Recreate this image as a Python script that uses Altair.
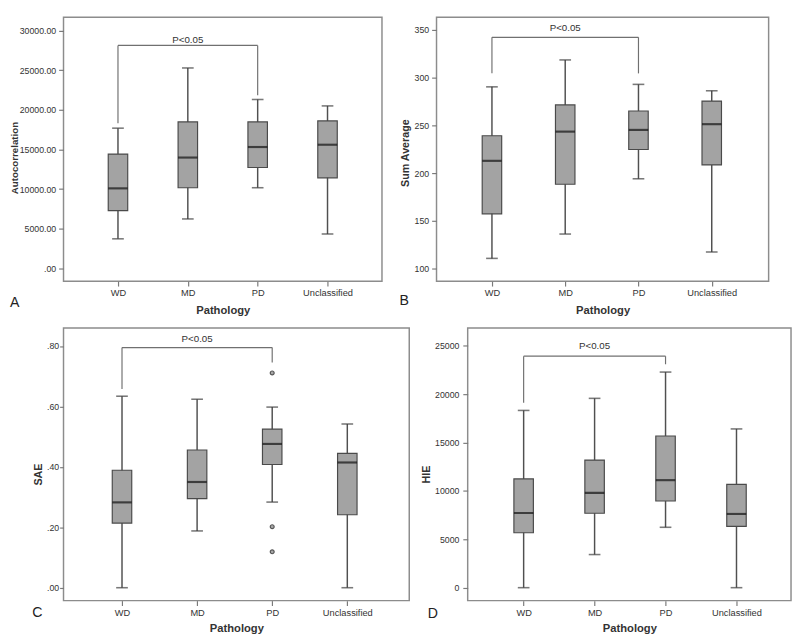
import altair as alt
import pandas as pd

FONT = "Liberation Sans, Arial, Helvetica, sans-serif"
CATS = ["WD", "MD", "PD", "Unclassified"]

# ---- Panel A: Autocorrelation ----
A_LO = [3730, 6240, 10180, 4340]
A_Q1 = [7300, 10180, 12730, 11430]
A_MED = [10100, 13990, 15320, 15610]
A_Q3 = [14430, 18490, 18490, 18610]
A_HI = [17700, 25300, 21320, 20510]
A_TICKS = [0, 5000, 10000, 15000, 20000, 25000, 30000]
A_BRACKET = [28150, 18320, 21850]  # bar level, WD leg end, PD leg end

# ---- Panel B: Sum Average ----
B_LO = [110.8, 136.3, 194.2, 117.5]
B_Q1 = [157.5, 188.5, 224.9, 208.7]
B_MED = [213.0, 243.6, 245.4, 251.4]
B_Q3 = [239.3, 271.6, 265.2, 275.6]
B_HI = [290.5, 318.7, 293.1, 286.4]
B_TICKS = [100, 150, 200, 250, 300, 350]
B_BRACKET = [342.4, 304.8, 304.6]

# ---- Panel C: SAE ----
C_LO = [0.0, 0.188, 0.2835, 0.0]
C_Q1 = [0.214, 0.295, 0.408, 0.2416]
C_MED = [0.2825, 0.350, 0.476, 0.4146]
C_Q3 = [0.389, 0.456, 0.525, 0.445]
C_HI = [0.634, 0.624, 0.598, 0.542]
C_OUT_CAT = [2, 2, 2]
C_OUT_VAL = [0.711, 0.202, 0.119]
C_TICKS = [0.0, 0.2, 0.4, 0.6, 0.8]
C_BRACKET = [0.795, 0.658, 0.746]

# ---- Panel D: HIE ----
D_LO = [0, 3422, 6240, 0]
D_Q1 = [5676, 7689, 8957, 6340]
D_MED = [7719, 9802, 11111, 7618]
D_Q3 = [11241, 13184, 15670, 10668]
D_HI = [18316, 19565, 22281, 16405]
D_TICKS = [0, 5000, 10000, 15000, 20000, 25000]
D_BRACKET = [23922, 19121, 23087]

P_TEXT = "P<0.05"
X_TITLE = "Pathology"

CAT_EXPR = "[" + ",".join("'%s'" % c for c in CATS) + "][datum.value]"


def panel(lo, q1, med, q3, hi, ticks, ydom, yexpr, ytitle, ytitle_size,
          letter, bracket, w, h, xdom, title_x, title_y, letter_x, letter_y,
          label_pad=3, tick_size=5, out_cat=None, out_val=None, text_dy=-8,
          xtitle_y=24):
    df = pd.DataFrame({"idx": list(range(len(CATS))), "cat": CATS,
                       "lo": lo, "q1": q1, "med": med, "q3": q3, "hi": hi})
    xs = alt.Scale(domain=xdom, nice=False, zero=False)
    ys = alt.Scale(domain=ydom, nice=False, zero=False)
    x_axis = alt.Axis(values=list(range(len(CATS))), labelExpr=CAT_EXPR,
                      title=X_TITLE, grid=False, domain=False, tickSize=5,
                      tickColor="#7a7a7a", tickWidth=1.2, labelFontSize=9.5,
                      labelColor="#333333", labelPadding=2, labelFlush=False,
                      titleFontSize=11.5, titleFontWeight="bold", titleColor="#333333",
                      titleY=xtitle_y, titleBaseline="top")
    y_axis = alt.Axis(values=ticks, labelExpr=yexpr, title=ytitle, grid=False,
                      domain=False, tickSize=tick_size, tickColor="#7a7a7a", tickWidth=1.2,
                      labelFontSize=9, labelColor="#333333", labelPadding=label_pad,
                      labelFlush=False, labelOverlap=False,
                      titleFontSize=ytitle_size, titleFontWeight="bold", titleColor="#333333",
                      titleX=title_x, titleY=title_y, titleBaseline="bottom", titleAngle=270)
    base = alt.Chart(df)
    whisk = base.mark_rule(color="#505050", strokeWidth=1.5).encode(
        x=alt.X("idx:Q", scale=xs, axis=x_axis),
        y=alt.Y("lo:Q", scale=ys, axis=y_axis), y2="hi:Q")
    cap_lo = base.mark_tick(orient="horizontal", size=12, thickness=1.6, color="#404040").encode(
        x="idx:Q", y="lo:Q")
    cap_hi = base.mark_tick(orient="horizontal", size=12, thickness=1.6, color="#404040").encode(
        x="idx:Q", y="hi:Q")
    box = base.mark_bar(size=20, fill="#a3a3a3", stroke="#4a4a4a", strokeWidth=1.2).encode(
        x="idx:Q", y="q1:Q", y2="q3:Q")
    mid = base.mark_tick(orient="horizontal", size=20, thickness=2.2, color="#111111").encode(
        x="idx:Q", y="med:Q")
    layers = [whisk, cap_lo, cap_hi, box, mid]

    if out_cat is not None:
        dfo = pd.DataFrame({"idx": out_cat, "v": out_val})
        pts = alt.Chart(dfo).mark_point(shape="circle", filled=True, size=16, fill="#a8a8a8",
                                        stroke="#555555", strokeWidth=1.2, opacity=1).encode(
            x="idx:Q", y="v:Q")
        layers.append(pts)

    lev, e_wd, e_pd = bracket
    i_wd, i_pd = CATS.index("WD"), CATS.index("PD")
    dfb = pd.DataFrame({"x0": [i_wd], "x1": [i_pd], "lev": [lev]})
    bar_h = alt.Chart(dfb).mark_rule(color="#707070", strokeWidth=1.2).encode(
        x="x0:Q", x2="x1:Q", y="lev:Q")
    dfl = pd.DataFrame({"idx": [i_wd, i_pd], "lev": [lev, lev], "end": [e_wd, e_pd]})
    legs = alt.Chart(dfl).mark_rule(color="#707070", strokeWidth=1.2).encode(
        x="idx:Q", y="lev:Q", y2="end:Q")
    dft = pd.DataFrame({"idx": [(i_wd + i_pd) / 2], "lev": [lev], "t": [P_TEXT]})
    ptxt = alt.Chart(dft).mark_text(baseline="middle", dy=text_dy, fontSize=10,
                                    color="#333333", font=FONT).encode(
        x="idx:Q", y="lev:Q", text="t:N")
    dfL = pd.DataFrame({"t": [letter]})
    let = alt.Chart(dfL).mark_text(align="left", baseline="middle", fontSize=14.5,
                                   color="#222222", font=FONT).encode(
        x=alt.value(letter_x), y=alt.value(h + letter_y), text="t:N")
    layers += [bar_h, legs, ptxt, let]
    return alt.layer(*layers).properties(width=w, height=h)


A = panel(A_LO, A_Q1, A_MED, A_Q3, A_HI, A_TICKS, [-1620, 31700],
          "datum.value == 0 ? '.00' : format(datum.value, '.2f')",
          "Autocorrelation", 10, "A", A_BRACKET, 327, 271, [-0.71, 3.71],
          -45.5, 144, -55, 22, text_dy=-5)
B = panel(B_LO, B_Q1, B_MED, B_Q3, B_HI, B_TICKS, [86.9, 363.4],
          "format(datum.value, 'd')",
          "Sum Average", 11, "B", B_BRACKET, 341, 271, [-0.69, 3.71],
          -27, 139, -38, 20, text_dy=-9)
C = panel(C_LO, C_Q1, C_MED, C_Q3, C_HI, C_TICKS, [-0.0428, 0.860],
          "substring(format(datum.value, '.2f'), 1)",
          "SAE", 11, "C", C_BRACKET, 355, 280, [-0.714, 3.76],
          -21, 150, -32, 13, label_pad=1, tick_size=4,
          out_cat=C_OUT_CAT, out_val=C_OUT_VAL, text_dy=-9, xtitle_y=23)
D = panel(D_LO, D_Q1, D_MED, D_Q3, D_HI, D_TICKS, [-1340, 26840],
          "format(datum.value, 'd')",
          "HIE", 11, "D", D_BRACKET, 332, 280, [-0.72, 3.70],
          -37, 150, -41, 14, label_pad=4, text_dy=-10, xtitle_y=23)

row1 = alt.hconcat(A, B, spacing=16)
row2 = alt.hconcat(C, D, spacing=10)
chart = alt.vconcat(row1, row2, spacing=10).properties(
    padding=0, background="#ffffff"
).configure_view(
    stroke="#8c8c8c", strokeWidth=1.5
).configure_axis(
    labelFont=FONT, titleFont=FONT
).configure_text(font=FONT)

chart.save("out.html", embed_options={"renderer": "svg", "actions": False})
